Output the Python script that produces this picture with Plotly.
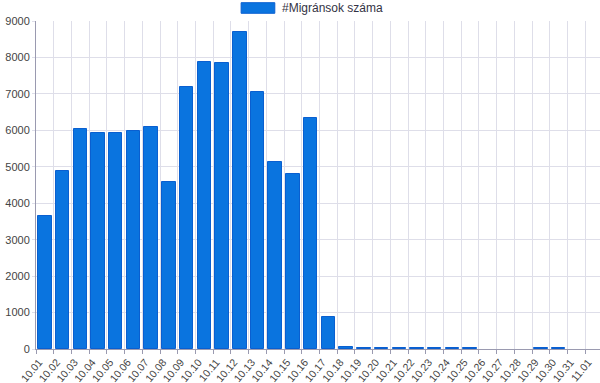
import plotly.graph_objects as go

labels = ["10.01","10.02","10.03","10.04","10.05","10.06","10.07","10.08","10.09","10.10",
          "10.11","10.12","10.13","10.14","10.15","10.16","10.17","10.18","10.19","10.20",
          "10.21","10.22","10.23","10.24","10.25","10.26","10.27","10.28","10.29","10.30",
          "10.31","11.01"]
values = [3660, 4890, 6040, 5920, 5940, 5980, 6080, 4570, 7200, 7880,
          7860, 8690, 7060, 5140, 4800, 6330, 870, 50, 20, 20,
          20, 20, 20, 20, 20, 0, 0, 0, 20, 20,
          0, 0]
series_name = "#Migránsok száma"
y_ticks = [0, 1000, 2000, 3000, 4000, 5000, 6000, 7000, 8000, 9000]

xpos = [i + 0.5 for i in range(len(labels))]
line_w = [1 if v > 0 else 0 for v in values]
font = "Arial, Liberation Sans, sans-serif"

fig = go.Figure()
fig.add_trace(go.Bar(
    x=xpos, y=values, width=0.76, name=series_name,
    marker=dict(color="#0a74df", line=dict(color="#0a5fd0", width=line_w)),
    showlegend=False,
))

fig.update_layout(
    width=600, height=383,
    margin=dict(l=36, r=0, t=21, b=34),
    paper_bgcolor="white", plot_bgcolor="white",
    font=dict(family=font, size=11, color="#444444"),
    xaxis=dict(
        range=[0, 31.83], tickmode="array",
        tickvals=list(range(len(labels))), ticktext=labels,
        tickangle=-50, tickfont=dict(size=10.5, color="#444444"),
        ticklabelshift=3, ticklabelstandoff=-2,
        showgrid=True, gridcolor="#dedee9", gridwidth=1,
        ticks="outside", ticklen=4, tickcolor="#9a9ab0",
        showline=True, linecolor="#9a9ab0", linewidth=1,
        zeroline=False, fixedrange=True, automargin=False,
    ),
    yaxis=dict(
        range=[0, 9000], tickmode="array", tickvals=y_ticks,
        ticktext=[str(v) for v in y_ticks],
        tickfont=dict(size=11, color="#444444"),
        showgrid=True, gridcolor="#dedee9", gridwidth=1,
        ticks="outside", ticklen=3, tickcolor="#dedee9",
        showline=True, linecolor="#9a9ab0", linewidth=1,
        zeroline=False, fixedrange=True, automargin=False,
    ),
    bargap=0,
)

# legend drawn manually to match the wide swatch
fig.add_shape(type="rect", xref="paper", yref="paper",
              x0=0.3637, x1=0.4234, y0=1.0235, y1=1.0558,
              fillcolor="#0a74df", line=dict(color="#0a5fd0", width=1))
fig.add_annotation(xref="paper", yref="paper", x=0.4329, y=1.0396,
                   xanchor="left", yanchor="middle", showarrow=False,
                   text=series_name, font=dict(size=12, color="#333344", family=font))

fig.write_html("out.html", config={"displayModeBar": False},
               post_script="document.body.style.margin='0';document.body.style.overflow='hidden';")
